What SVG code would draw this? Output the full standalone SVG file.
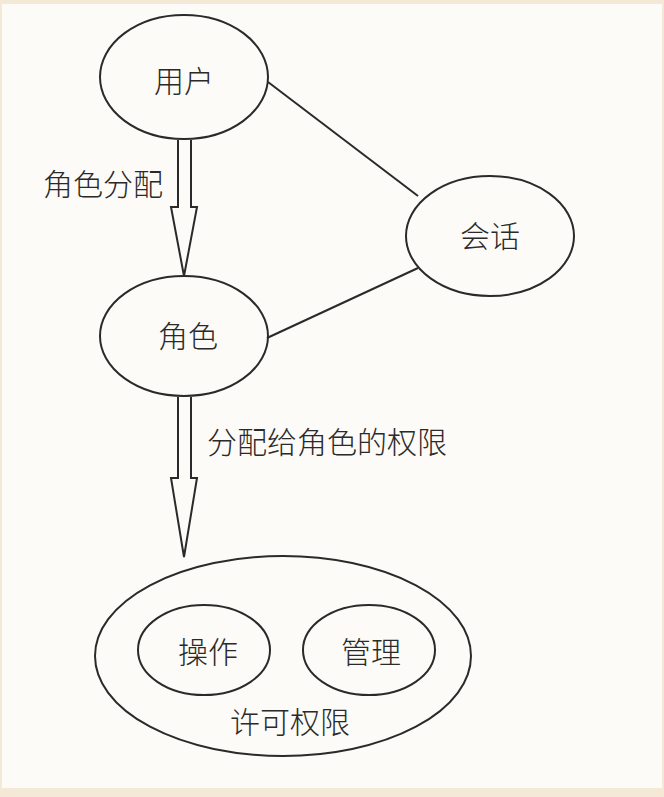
<svg xmlns="http://www.w3.org/2000/svg" width="664" height="797" viewBox="0 0 664 797">
<style>
.n{fill:none;stroke:#2a2a2a;stroke-width:2}
.t{font-family:"Noto Sans CJK SC",sans-serif;font-size:30px;font-weight:300;fill:#2a2a2a;text-anchor:middle;dominant-baseline:central}
.c{fill:none;stroke:#2a2a2a;stroke-width:2;stroke-linejoin:miter}
</style>
<rect width="664" height="797" fill="#f3e9d6"/>
<rect x="2" y="4" width="660" height="784" fill="#fcfbf7"/>
<g id="user"><ellipse class="n" cx="184" cy="77" rx="84" ry="62"/><text class="t" x="184" y="79">用户</text></g>
<g id="role"><ellipse class="n" cx="184" cy="336" rx="84" ry="60"/><text class="t" x="188" y="334">角色</text></g>
<g id="session"><ellipse class="n" cx="490" cy="236" rx="84" ry="60"/><text class="t" x="490" y="234">会话</text></g>
<g id="perm"><ellipse class="n" cx="283" cy="656" rx="188" ry="100"/>
<ellipse class="n" cx="204" cy="650" rx="66" ry="45"/><text class="t" x="208" y="650">操作</text>
<ellipse class="n" cx="369" cy="650" rx="66" ry="45"/><text class="t" x="371" y="650">管理</text>
<text class="t" x="290" y="720">许可权限</text></g>
<g id="connectors">
<path class="c" d="M178,140 V207 H171 L184,276 L197,207 H191 V140"/>
<path class="c" d="M178,397 V478 H171 L184,557 L197,478 H191 V397"/>
<line class="c" x1="268" y1="82" x2="418" y2="196"/>
<line class="c" x1="267" y1="338" x2="418" y2="268"/>
<text class="t" x="103" y="182">角色分配</text>
<text class="t" x="327" y="440">分配给角色的权限</text>
</g>
</svg>
